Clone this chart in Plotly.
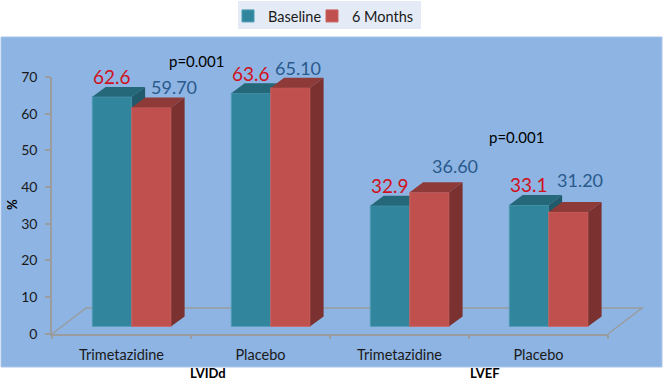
import plotly.graph_objects as go

W, H = 663, 381
categories = ["Trimetazidine", "Placebo", "Trimetazidine", "Placebo"]
positions = [0, 1, 2, 3]
baseline = [62.6, 63.6, 32.9, 33.1]
six_months = [59.70, 65.10, 36.60, 31.20]
baseline_text = ["62.6", "63.6", "32.9", "33.1"]
six_months_text = ["59.70", "65.10", "36.60", "31.20"]
y_ticks = [0, 10, 20, 30, 40, 50, 60, 70]

# geometry / style
LEFT, RIGHT, TOP, BOTTOM = 52, 608, 77, 333.7
BASE = 2.0
BAR_W = 0.284
OFF_A, OFF_B = -0.21, 0.074
DX, DY = 0.096, 2.7
FONT = "Lato, Carlito, Calibri, sans-serif"
TEAL, TEAL_TOP, TEAL_SIDE = "#31859c", "#25687a", "#215a6b"
RED, RED_TOP, RED_SIDE = "#c0504d", "#8e3a38", "#7b312f"
LINE = "#9a9c9e"


def px(x):
    return x / W


def py(y):
    return 1 - y / H


def faces(vals, off):
    top_x, top_y, side_x, side_y = [], [], [], []
    for p, v in zip(positions, vals):
        l, r = p + off, p + off + BAR_W
        t, b = BASE + v, BASE
        top_x += [l, r, r + DX, l + DX, l, None]
        top_y += [t, t, t + DY, t + DY, t, None]
        side_x += [r, r + DX, r + DX, r, r, None]
        side_y += [b, b + DY, t + DY, t, b, None]
    return top_x, top_y, side_x, side_y


def series(name, vals, off, front, top, side, xa, ya, leg):
    tx, ty, sx, sy = faces(vals, off)
    return [
        go.Bar(x=positions, y=vals, base=BASE, width=BAR_W, offset=off, name=name, legend=leg,
               marker=dict(color=front, line=dict(color="#4f9cb5" if front == TEAL else "#c9625f", width=1)),
               xaxis=xa, yaxis=ya, hoverinfo="skip"),
        go.Scatter(x=sx, y=sy, fill="toself", fillcolor=side, mode="lines", line=dict(width=0),
                   showlegend=False, xaxis=xa, yaxis=ya, hoverinfo="skip"),
        go.Scatter(x=tx, y=ty, fill="toself", fillcolor=top, mode="lines", line=dict(width=0),
                   showlegend=False, xaxis=xa, yaxis=ya, hoverinfo="skip"),
    ]


fig = go.Figure()
fig.add_traces(series("Baseline", baseline, OFF_A, TEAL, TEAL_TOP, TEAL_SIDE, "x", "y", "legend"))
fig.add_traces(series("6 Months", six_months, OFF_B, RED, RED_TOP, RED_SIDE, "x2", "y2", "legend2"))

# value labels: offsets in pixels from each bar's top centre
dx_a, dy_a = [0, 0, 0, 0], [20, 20, 20, 20]
dx_b, dy_b = [22, 7, 25, 11], [20, 20, 26, 32]
ann = []
for p, v, t, dx, dy in zip(positions, baseline, baseline_text, dx_a, dy_a):
    ann.append(dict(x=p + OFF_A + BAR_W / 2, y=BASE + v, text=t, xref="x", yref="y", showarrow=False,
                    xshift=dx, yshift=dy, font=dict(size=19, color="#d0111b", family=FONT)))
for p, v, t, dx, dy in zip(positions, six_months, six_months_text, dx_b, dy_b):
    ann.append(dict(x=p + OFF_B + BAR_W / 2, y=BASE + v, text=t, xref="x", yref="y", showarrow=False,
                    xshift=dx, yshift=dy, font=dict(size=18, color="#2a5a8c", family=FONT)))
for t, x, y, size, angle in [
    ("p=0.001", 196, 61, 15, 0),
    ("p=0.001", 516, 137, 15, 0),
    ("<b>LVIDd</b>", 208, 373, 13, 0),
    ("<b>LVEF</b>", 485, 373, 13, 0),
    ("<b>%</b>", 12, 205, 13, -90),
]:
    ann.append(dict(x=px(x), y=py(y), xref="paper", yref="paper", text=t, showarrow=False, textangle=angle,
                    xanchor="center", yanchor="middle",
                    font=dict(size=size, color="#000000", family=FONT)))

shapes = [
    dict(type="rect", xref="paper", yref="paper", x0=px(1), x1=px(662), y0=py(37), y1=py(367),
         fillcolor="#8db4e3", line=dict(color="#a9c5e8", width=1), layer="below"),
    dict(type="rect", xref="paper", yref="paper", x0=px(238), x1=px(421), y0=py(1), y1=py(29),
         fillcolor="#e4ebf6", line=dict(width=0), layer="below"),
    dict(type="path", xref="paper", yref="paper", layer="below", line=dict(color=LINE, width=1.5),
         path=f"M {px(52)} {py(334)} L {px(86)} {py(308)} L {px(642)} {py(308)} L {px(608)} {py(334)}"),
]

dom_x = [px(LEFT), px(RIGHT)]
dom_y = [py(BOTTOM), py(TOP)]
axis_x = dict(domain=dom_x, range=[-0.5, 3.5], tickvals=positions, ticktext=categories, ticks="",
              showgrid=False, zeroline=False, showline=True, linecolor=LINE, linewidth=1.5,
              tickfont=dict(size=14.5, color="#1a1a1a", family=FONT), ticklabelstandoff=7,
              minor=dict(tickvals=[-0.5, 0.5, 1.5, 2.5, 3.5], ticks="outside", ticklen=4,
                         tickcolor=LINE, tickwidth=1.5, showgrid=False))
axis_y = dict(domain=dom_y, range=[0, 70], tickvals=y_ticks, ticks="outside", ticklen=5, tickcolor=LINE,
              tickwidth=1.5, showgrid=False, zeroline=False, showline=True, linecolor=LINE, linewidth=1.5,
              ticklabelstandoff=5, tickfont=dict(size=14, color="#1a1a1a", family=FONT))

legend_font = dict(size=14.5, color="#1a1a1a", family=FONT)
fig.update_layout(
    width=W, height=H, autosize=False, margin=dict(l=0, r=0, t=0, b=0, autoexpand=False),
    paper_bgcolor="#ffffff", plot_bgcolor="rgba(0,0,0,0)", barmode="overlay",
    xaxis=axis_x, yaxis=axis_y,
    xaxis2=dict(domain=dom_x, range=[-0.5, 3.5], overlaying="x", visible=False),
    yaxis2=dict(domain=dom_y, range=[0, 70], overlaying="y", visible=False),
    legend=dict(orientation="h", x=px(228), xanchor="left", y=py(0), yanchor="top",
                bgcolor="rgba(0,0,0,0)", font=legend_font),
    legend2=dict(orientation="h", x=px(312), xanchor="left", y=py(0), yanchor="top",
                 bgcolor="rgba(0,0,0,0)", font=legend_font),
    annotations=ann, shapes=shapes,
)
fig.write_html("out.html", config={"displayModeBar": False},
               post_script="document.body.style.margin='0';document.body.style.overflow='hidden';")
